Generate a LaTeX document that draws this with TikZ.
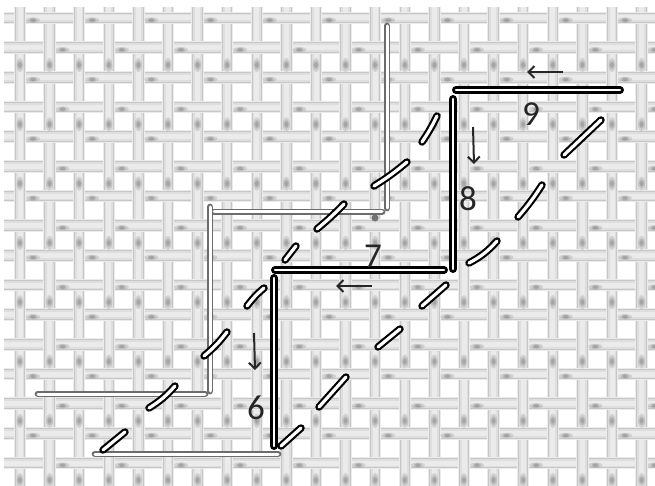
\documentclass[tikz,border=0pt]{standalone}
\usepackage{fontspec}
\setmainfont{Carlito}
\usetikzlibrary{arrows.meta}
\newcommand{\threadpiece}[2]{%
  \draw[line width=12.5pt,draw=threadhalo] #1 -- #2;
  \draw[line width=10.5pt,draw=threadedge] #1 -- #2;
  \draw[line width=8.5pt,draw=threadmid] #1 -- #2;
  \draw[line width=5pt,draw=threadlight] #1 -- #2;
}
\definecolor{threadhalo}{gray}{0.92}
\definecolor{threadedge}{gray}{0.78}
\definecolor{threadmid}{gray}{0.87}
\definecolor{threadlight}{gray}{0.92}
\tikzset{
  blacksew/.style={line cap=round,preaction={draw=black,line width=8pt,line cap=round},draw=white,line width=2.4pt},
  dashsew/.style={line cap=round,preaction={draw=black,line width=7.5pt,line cap=round},draw=white,line width=3.2pt},
  graysew/.style={line cap=round,preaction={draw=gray!85!black,line width=6.8pt,line cap=round},draw=white,line width=3pt},
  dirarrow/.style={line width=2pt,draw=black!85,-{Straight Barb[length=6pt,width=12pt,line width=2pt]}},
  numlabel/.style={font=\fontsize{35}{35}\selectfont,text=black!85,inner sep=0pt},
  softspot/.style={fill=black,opacity=0.11}
}
\begin{document}
\begin{tikzpicture}[x=1pt,y=-1pt]
\useasboundingbox (0,0) rectangle (655,486);
\fill[white] (0,0) rectangle (655,486);
\begin{scope}
\clip (0,0) rectangle (655,486);
% weft threads
\foreach \j in {0,...,16}{
  \pgfmathsetmacro{\yy}{18+29.67*\j}
  \threadpiece{(4,\yy)}{(655,\yy)}
}
% warp threads
\foreach \i in {0,...,21}{
  \pgfmathsetmacro{\xx}{20+29.6*\i}
  \threadpiece{(\xx,7)}{(\xx,486)}
}
% weft passing over the warp
\foreach \j in {0,...,16}{
  \foreach \i in {0,...,21}{
    \pgfmathtruncatemacro{\oddflag}{mod(\i+\j,2)}
    \ifnum\oddflag=1
      \pgfmathsetmacro{\yy}{18+29.67*\j}
      \pgfmathsetmacro{\xa}{20+29.6*\i-14}
      \pgfmathsetmacro{\xb}{20+29.6*\i+14}
      \threadpiece{(\xa,\yy)}{(\xb,\yy)}
    \fi
  }
}
% shadow spots on the weft
\foreach \j in {0,...,16}{
  \foreach \k in {0,...,10}{
    \pgfmathtruncatemacro{\oddflag}{mod(\j,2)}
    \pgfmathsetmacro{\yy}{18+29.67*\j+2}
    \pgfmathsetmacro{\xx}{33+59.2*\k+29.6*\oddflag}
    \fill[softspot] (\xx,\yy) ellipse (7pt and 2.6pt);
    \fill[softspot] (\xx,\yy) ellipse (4pt and 2pt);
    \fill[softspot] (\xx,\yy) ellipse (2.5pt and 1.5pt);
  }
}
% shadow spots on the warp
\foreach \i in {0,...,21}{
  \foreach \k in {0,...,7}{
    \pgfmathsetmacro{\xx}{20+29.6*\i}
    \pgfmathsetmacro{\yy}{65+59.3*\k}
    \fill[softspot] (\xx,\yy) ellipse (3.5pt and 7pt);
    \fill[softspot] (\xx,\yy) ellipse (2.6pt and 4.5pt);
    \fill[softspot] (\xx,\yy) ellipse (1.8pt and 2.5pt);
  }
}
\end{scope}
% grey stitches
\fill[gray!90!black] (375,218) circle (3.5pt);
\draw[graysew] (387,26) -- (387,208);
\draw[graysew] (214,212) -- (382,212);
\draw[graysew] (210,207) -- (210,391);
\draw[graysew] (38,394) -- (205,394);
\draw[graysew] (95,454) -- (278,454);
% black stitches
\draw[blacksew] (456,90) -- (620,90);
\draw[blacksew] (453,99) -- (453,269);
\draw[blacksew] (275,270) -- (444,270);
\draw[blacksew] (274,278) -- (274,446);
% dashed back stitches, left line
\draw[dashsew] (437,116) to[bend left=4] (422,142);
\draw[dashsew] (407,162) to[bend left=4] (374,186);
\draw[dashsew] (344,204) to[bend left=3] (317,229);
\draw[dashsew] (296,246) -- (285,260);
\draw[dashsew] (264,288) to[bend right=6] (247,306);
\draw[dashsew] (227,332) to[bend left=6] (204,356);
\draw[dashsew] (175,386) to[bend left=8] (149,408);
\draw[dashsew] (125,432) -- (103,450);
% dashed back stitches, right line
\draw[dashsew] (601,120) -- (564,155);
\draw[dashsew] (542,185) to[bend left=4] (518,217);
\draw[dashsew] (497,241) to[bend left=10] (469,263);
\draw[dashsew] (446,285) -- (422,306);
\draw[dashsew] (400,329) -- (378,347);
\draw[dashsew] (346,377) -- (319,407);
\draw[dashsew] (301,428) -- (281,446);
% direction arrows
\coordinate (a9s) at (563,72); \coordinate (a9e) at (527,72);
\coordinate (a8s) at (473,127); \coordinate (a8e) at (474,164);
\coordinate (a7s) at (372,286); \coordinate (a7e) at (336,286);
\coordinate (a6s) at (254,333); \coordinate (a6e) at (255,370);
\draw[dirarrow] (a9s) -- (a9e);
\draw[dirarrow] (a8s) -- (a8e);
\draw[dirarrow] (a7s) -- (a7e);
\draw[dirarrow] (a6s) -- (a6e);
% numbers
\node[numlabel] (n9) at (531,114) {9};
\node[numlabel] (n8) at (468,199) {8};
\node[numlabel] (n7) at (373,256) {7};
\node[numlabel] (n6) at (256,408) {6};
\end{tikzpicture}
\end{document}
